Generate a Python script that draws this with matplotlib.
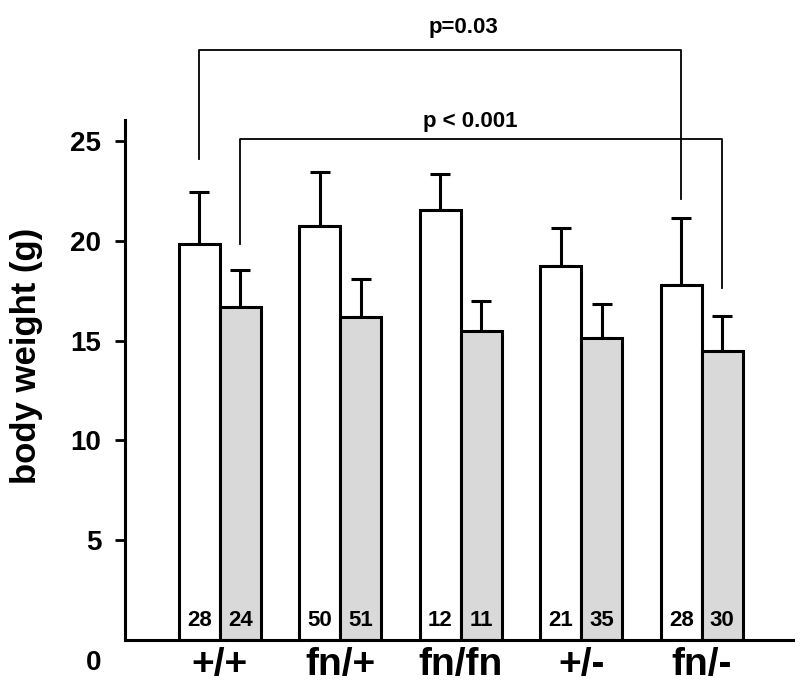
import numpy as np
import matplotlib
matplotlib.use('Agg')
import matplotlib.pyplot as plt
import matplotlib.transforms as mtransforms

plt.rcParams['font.family'] = ['Liberation Sans', 'DejaVu Sans']
plt.rcParams['font.weight'] = 'bold'

# data
groups = ['+/+', 'fn/+', 'fn/fn', '+/-', 'fn/-']
white_mean = [19.85, 20.75, 21.55, 18.75, 17.8]
white_err = [2.6, 2.7, 1.8, 1.9, 3.35]
gray_mean = [16.68, 16.18, 15.48, 15.13, 14.48]
gray_err = [1.86, 1.91, 1.5, 1.7, 1.75]
white_n = [28, 50, 12, 21, 28]
gray_n = [24, 51, 11, 35, 30]

# significance brackets: (left group, left bar, right group, right bar, top, left foot, right foot, text, text x, text y)
brackets = [
    (0, 'w', 4, 'w', 29.56, 24.1, 22.1, 'p=0.03', 2.02, 30.16),
    (0, 'g', 4, 'g', 25.1, 19.84, 17.64, 'p < 0.001', 2.08, 25.45),
]

x = np.arange(len(groups))
w = 0.34

fig = plt.figure(figsize=(8, 6.92), dpi=100)
ax = fig.add_axes([0.156, 0.0751, 0.835, 0.7514])

ax.bar(x - w/2, white_mean, w, color='white', edgecolor='black', linewidth=2.2, zorder=2)
ax.bar(x + w/2, gray_mean, w, color='#d9d9d9', edgecolor='black', linewidth=2.2, zorder=2)
ax.errorbar(x - w/2, white_mean, yerr=[np.zeros(5), white_err], fmt='none',
            ecolor='black', elinewidth=2.2, capsize=7.5, capthick=2.2, zorder=1)
ax.errorbar(x + w/2, gray_mean, yerr=[np.zeros(5), gray_err], fmt='none',
            ecolor='black', elinewidth=2.2, capsize=7.5, capthick=2.2, zorder=1)

for i in range(len(groups)):
    ax.text(x[i] - w/2, 1.0, str(white_n[i]), ha='center', va='center', fontsize=16, fontweight='bold', zorder=3)
    ax.text(x[i] + w/2, 1.0, str(gray_n[i]), ha='center', va='center', fontsize=16, fontweight='bold', zorder=3)

for g1, b1, g2, b2, top, f1, f2, label, tx, ty in brackets:
    x1 = x[g1] - w/2 if b1 == 'w' else x[g1] + w/2
    x2 = x[g2] - w/2 if b2 == 'w' else x[g2] + w/2
    ax.plot([x1, x1, x2, x2], [f1, top, top, f2], color='black', lw=1.3, clip_on=False)
    ax.text(tx, ty, label, ha='center', va='bottom', fontsize=16, fontweight='bold')

ax.set_xlim(-0.788, 4.755)
ax.set_ylim(0, 26.05)
ax.set_yticks([0, 5, 10, 15, 20, 25])
ax.set_xticks(x)
ax.set_xticklabels(groups, fontsize=28, fontweight='bold')
ax.tick_params(axis='x', length=0, pad=5)
ax.tick_params(axis='y', direction='out', length=7, width=2, labelsize=20, pad=10)
for lab in ax.get_yticklabels():
    lab.set_fontweight('bold')

# "0" sits below the axis line with no tick mark
ax.yaxis.get_major_ticks()[0].tick1line.set_visible(False)
lab0 = ax.get_yticklabels()[0]
lab0.set_transform(lab0.get_transform() + mtransforms.ScaledTranslation(0, -14.5/72, fig.dpi_scale_trans))

for s in ['top', 'right']:
    ax.spines[s].set_visible(False)
for s in ['left', 'bottom']:
    ax.spines[s].set_linewidth(2.2)

fig.text(27/800, 1 - 356/692, 'body weight (g)', rotation=90, ha='center', va='center',
         fontsize=25, fontweight='bold')

fig.savefig('out.png', dpi=100)
